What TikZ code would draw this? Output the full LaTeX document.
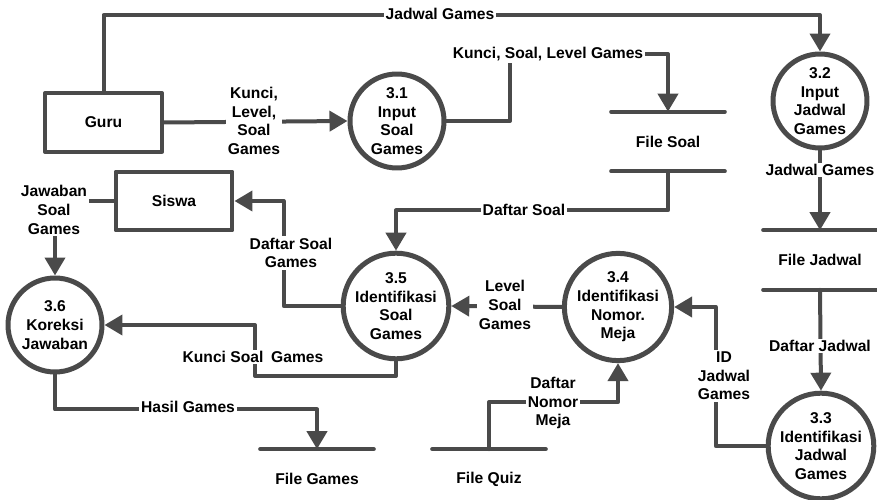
\documentclass[tikz,border=0pt]{standalone}
\usepackage{fontspec}
\setmainfont{Liberation Sans}
\usetikzlibrary{arrows.meta}
\definecolor{garis}{HTML}{4A4A4A}
\begin{document}
\begin{tikzpicture}[x=0.02cm,y=-0.02cm,>={Triangle[length=0.36cm,width=0.4cm]},
	font=\fontsize{8.9}{10.6}\selectfont\bfseries, line join=round, line cap=round,
	alur/.style={draw=garis,line width=0.08cm},
	proses/.style={circle,draw=garis,line width=0.1cm,minimum size=1.88cm,inner sep=0pt,align=center},
	entitas/.style={rectangle,draw=garis,line width=0.08cm,minimum width=2.34cm,minimum height=1.17cm},
	simpan/.style={minimum width=2.26cm,minimum height=1.18cm,inner sep=0pt},
	ket/.style={fill=white,inner sep=1pt,align=center}]
	\useasboundingbox (0,0) rectangle (877,500);
	% Entitas luar
	\node[entitas] (guru) at (103.5,122.5) {Guru};
	\node[entitas] (siswa) at (174,201) {Siswa};
	% Proses
	\node[proses] (p31) at (397,121) {3.1\\Input\\Soal\\Games};
	\node[proses] (p32) at (820,101) {3.2\\Input\\Jadwal\\Games};
	\node[proses] (p33) at (821,446) {3.3\\Identifikasi\\Jadwal\\Games};
	\node[proses] (p34) at (618,307) {3.4\\Identifikasi\\Nomor.\\Meja};
	\node[proses] (p35) at (396,306) {3.5\\Identifikasi\\Soal\\Games};
	\node[proses] (p36) at (55,325) {3.6\\Koreksi\\Jawaban};
	% Data store
	\node[simpan] (fsoal) at (668,141.5) {File Soal};
	\node[simpan] (fjadwal) at (820,260) {File Jadwal};
	\node[simpan] (fgames) at (317,479) {File Games};
	\node[simpan] (fquiz) at (489,479) {File Quiz};
	\foreach \s in {fsoal,fjadwal} \draw[alur] (\s.north west)--(\s.north east) (\s.south west)--(\s.south east);
	\foreach \s in {fgames,fquiz} \draw[alur] (\s.north west)--(\s.north east);
	% Aliran data
	\draw[alur,->] (guru.north) -- (guru.north |- 0,15) -| (p32.north);
	\draw[alur,->] (guru.east) -- (p31.west);
	\draw[alur,->] (p31.east) -| (510,54) -| (fsoal.north);
	\draw[alur,->] (fsoal.south) -- ++(0,39) -| (p35.north);
	\draw[alur,->] (p32.south) -- (fjadwal.north);
	\draw[alur,->] (fjadwal.south) -- (p33.north);
	\draw[alur,->] (p33.west) -- ++(-50,0) |- (p34.east);
	\draw[alur,->] (p34.west) -- (p35.east);
	\draw[alur,->] (fquiz.north) -- ++(0,-47) -| (p34.south);
	\draw[alur,->] (p35.west) -- ++(-57,0) |- (siswa.east);
	\draw[alur,->] (siswa.west) -| (p36.north);
	\draw[alur,->] (p35.south) |- (255,376) |- (p36.east);
	\draw[alur,->] (p36.south) -- ++(0,35) -| (fgames.north);
	% Keterangan
	\node[ket] (k1) at (440,14) {Jadwal Games};
	\node[ket] (k2) at (254,121) {Kunci,\\Level,\\Soal\\Games};
	\node[ket] (k3) at (548,54) {Kunci, Soal, Level Games};
	\node[ket] (k4) at (524,210) {Daftar Soal};
	\node[ket] (k5) at (820,170) {Jadwal Games};
	\node[ket] (k6) at (820,346) {Daftar Jadwal};
	\node[ket] (k7) at (724,376) {ID\\Jadwal\\Games};
	\node[ket] (k8) at (505,305) {Level\\Soal\\Games};
	\node[ket] (k9) at (553,403) {Daftar\\Nomor\\Meja};
	\node[ket] (k10) at (291,253) {Daftar Soal\\Games};
	\node[ket] (k11) at (54,210) {Jawaban\\Soal\\Games};
	\node[ket] (k12) at (253,357) {Kunci Soal\enspace Games};
	\node[ket] (k13) at (188,407) {Hasil Games};
\end{tikzpicture}
\end{document}
